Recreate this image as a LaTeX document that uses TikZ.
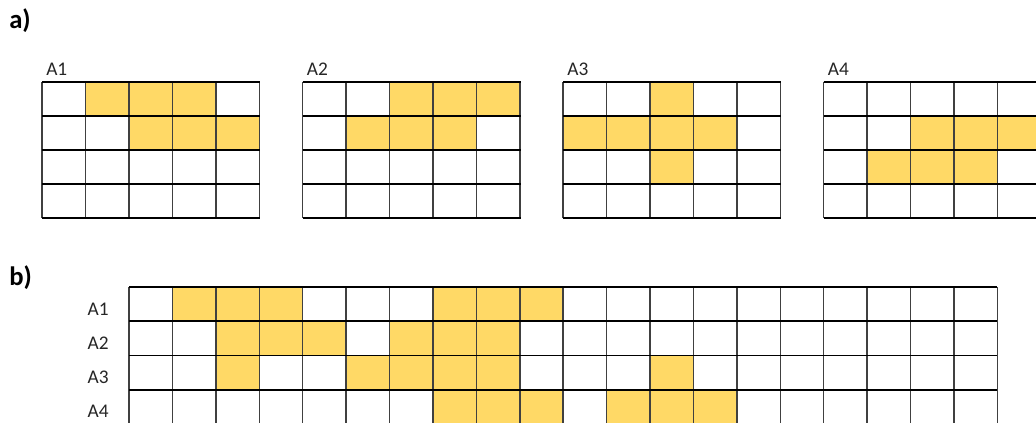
\documentclass[tikz,border=0pt]{standalone}
\usepackage{fontspec}
\setmainfont{Carlito}
\definecolor{cellyellow}{HTML}{FFD966}
\tikzset{
  cellfill/.style={fill=cellyellow},
  hline/.style={draw=black, line width=1.4pt},
  vline/.style={draw=black!75, line width=1.1pt},
  lab/.style={inner sep=0pt, font=\fontsize{14.5}{16}\selectfont, text=black!85},
  panellab/.style={inner sep=0pt, font=\fontsize{20}{22}\selectfont\bfseries, text=black},
}
\newcommand{\smallgrid}[4]{%
  % #1 x origin, #2 label, #3 filled cells c/r, #4 node name
  \foreach \c/\r in {#3} \fill[cellfill] ({#1+\c*43.5}, {82+\r*34}) rectangle ++(43.5,34);
  \foreach \i in {0,...,5} \draw[vline] ({#1+\i*43.5},82) -- ++(0,136);
  \foreach \j in {0,...,4} \draw[hline] (#1,{82+\j*34}) -- ++(218,0);
  \node[lab, anchor=base west] (#4) at ({#1+4}, 76) {#2};
}
\begin{document}
\begin{tikzpicture}[x=0.75pt, y=-0.75pt]
\useasboundingbox (0,0) rectangle (1036,423);
\fill[white] (0,0) rectangle (1036,423);
\clip (0,0) rectangle (1036,423);

% panel a
\node[panellab, anchor=base west] (pa) at (9,29) {a)};
\smallgrid{42}{A1}{1/0,2/0,3/0,2/1,3/1,4/1}{la1}
\smallgrid{302.6}{A2}{2/0,3/0,4/0,1/1,2/1,3/1}{la2}
\smallgrid{563.2}{A3}{2/0,0/1,1/1,2/1,3/1,2/2}{la3}
\smallgrid{823.6}{A4}{2/1,3/1,4/1,1/2,2/2,3/2}{la4}

% panel b
\node[panellab, anchor=base west] (pb) at (9,286) {b)};
\foreach \c/\r in {1/0,2/0,3/0,7/0,8/0,9/0,
                   2/1,3/1,4/1,6/1,7/1,8/1,
                   2/2,5/2,6/2,7/2,8/2,12/2,
                   7/3,8/3,9/3,11/3,12/3,13/3}
  \fill[cellfill] ({129+\c*43.42}, {287.3+\r*34.1}) rectangle ++(43.42,34.1);
\foreach \i in {0,...,20} \draw[vline] ({129+\i*43.42},287.3) -- ++(0,140);
\foreach \j in {0,...,4} \draw[hline] (129,{287.3+\j*34.1}) -- ++(868.4,0);
\foreach \r/\t in {0/A1,1/A2,2/A3,3/A4}
  \node[lab, anchor=east] (lb\t) at (109, {287.3+\r*34.1+22}) {\t};
\end{tikzpicture}
\end{document}
